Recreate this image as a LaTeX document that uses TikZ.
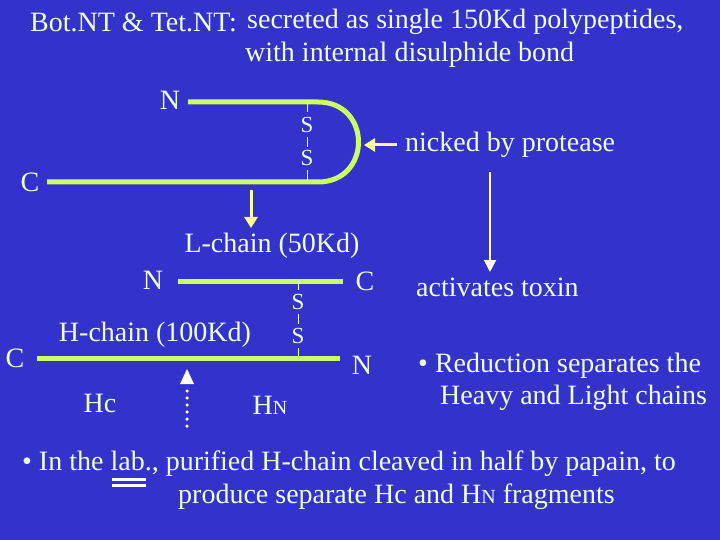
\documentclass[tikz,border=0pt]{standalone}
\usepackage{fontspec}
\setmainfont{Liberation Serif}
\usetikzlibrary{arrows.meta}
\definecolor{bgblue}{HTML}{3333CC}
\definecolor{chain}{HTML}{CCFF66}
\definecolor{txt}{HTML}{EEFFEE}
\definecolor{yarrow}{HTML}{FFFF99}
\begin{document}
\begin{tikzpicture}[x=1pt, y=-1pt,
    lbl/.style={text=txt, font=\fontsize{28}{32}\selectfont, inner sep=0pt},
    small/.style={text=txt, font=\fontsize{23}{26}\selectfont, inner sep=0pt},
    chainline/.style={draw=chain, line width=5pt},
    bond/.style={draw=txt, line width=1pt},
    yarr/.style={draw=yarrow, line width=3pt, -{Triangle[length=11pt, width=13pt]}},
    warr/.style={draw=white, line width=2pt, -{Triangle[length=12pt, width=12pt]}}]
    % Hintergrund
    \fill[bgblue] (0,0) rectangle (720,540);
    \useasboundingbox (0,0) rectangle (720,540);

    % Titel
    \node[lbl, anchor=west] (toxins) at (30,22) {Bot.NT \& Tet.NT:};
    \node[lbl, anchor=west] (title1) at (247,22) {secreted as single 150Kd polypeptides,};
    \node[lbl, anchor=west] (title2) at (245,55) {with internal disulphide bond};

    % Ganzes Toxin
    \node[lbl] (topN) at (170,100) {N};
    \node[lbl] (topC) at (30,182) {C};
    \draw[chainline] (188,102) -- (318,102) .. controls (372,102) and (372,182) .. (318,182) -- (47,182);
    \draw[bond] (307,102) -- (307,112) (307,137) -- (307,147) (307,170) -- (307,182);
    \node[small] (s1) at (307,125) {S};
    \node[small] (s2) at (307,158) {S};
    \node[lbl, anchor=west] (nicked) at (405,145) {nicked by protease};
    \coordinate (nickfrom) at (397,145);
    \coordinate (nickto) at (364,145);
    \draw[yarr] (nickfrom) -- (nickto);
    \coordinate (downfrom) at (251,190);
    \coordinate (downto) at (251,228);
    \draw[yarr] (downfrom) -- (downto);

    % Gespaltenes Toxin
    \node[lbl] (lname) at (272,246) {L-chain (50Kd)};
    \node[lbl] (lN) at (153,280) {N};
    \node[lbl] (lC) at (365,281) {C};
    \draw[chainline] (178,281) -- (343,281);
    \draw[bond] (298,281) -- (298,290) (298,314) -- (298,324) (298,348) -- (298,358);
    \node[small] (s3) at (298,302) {S};
    \node[small] (s4) at (298,336) {S};
    \node[lbl] (hname) at (155,335) {H-chain (100Kd)};
    \node[lbl] (hC) at (15,358) {C};
    \node[lbl] (hN) at (362,365) {N};
    \draw[chainline] (37,358) -- (340,358);
    \node[lbl] (hc) at (100,403) {Hc};
    \node[lbl] (hn) at (270,405) {H{\fontsize{20}{23}\selectfont N}};
    \coordinate (papfrom) at (187,426);
    \coordinate (papto) at (187,369);
    \draw[draw=white, line width=3.5pt, dash pattern=on 0pt off 7pt, line cap=round] (papfrom) -- (187,384);
    \draw[fill=white, draw=none] (papto) -- (180,384) -- (194,384) -- cycle;

    % Rechte Seite
    \coordinate (actfrom) at (490,172);
    \coordinate (actto) at (490,272);
    \draw[warr] (actfrom) -- (actto);
    \node[lbl, anchor=west] (act) at (416,287) {activates toxin};
    \node[lbl, anchor=west] (red1) at (418,366) {\textbullet\ Reduction separates the};
    \node[lbl, anchor=west] (red2) at (440,398) {Heavy and Light chains};

    % Fusszeile
    \node[lbl, anchor=west] (lab1) at (22,464) {\textbullet\ In the lab., purified H-chain cleaved in half by papain, to};
    \node[lbl, anchor=west] (lab2) at (178,497) {produce separate Hc and H{\fontsize{20}{23}\selectfont N} fragments};
    \fill[white] (112,478) rectangle (146,481);
    \fill[white] (112,484) rectangle (146,487);
\end{tikzpicture}
\end{document}
